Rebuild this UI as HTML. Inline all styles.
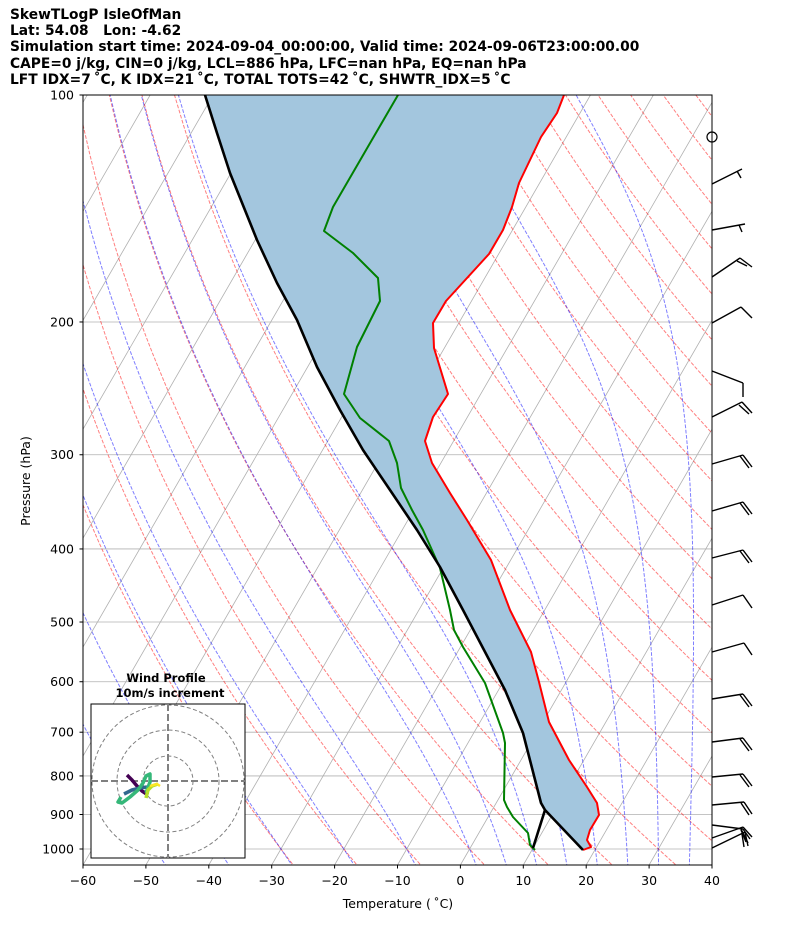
<!DOCTYPE html>
<html><head><meta charset="utf-8"><style>
html,body{margin:0;padding:0;background:#fff;}
body{width:794px;height:937px;overflow:hidden;position:relative;font-family:"Liberation Sans","DejaVu Sans",sans-serif;}
.hdr{position:absolute;left:10px;font-weight:bold;font-size:13.8px;color:#000;white-space:nowrap;font-family:"DejaVu Sans","Liberation Sans",sans-serif;}
</style></head><body>
<div class="hdr" style="top:7px">SkewTLogP IsleOfMan</div>
<div class="hdr" style="top:23px">Lat: 54.08&nbsp;&nbsp;&nbsp;Lon: -4.62</div>
<div class="hdr" style="top:39px">Simulation start time: 2024-09-04_00:00:00, Valid time: 2024-09-06T23:00:00.00</div>
<div class="hdr" style="top:56px">CAPE=0 j/kg, CIN=0 j/kg, LCL=886 hPa, LFC=nan hPa, EQ=nan hPa</div>
<div class="hdr" style="top:72px">LFT IDX=7C</div>
<svg id="s" width="794" height="937" style="position:absolute;left:0;top:0" xmlns="http://www.w3.org/2000/svg"></svg>
<script>
document.querySelectorAll('.hdr')[4].textContent="LFT IDX=7\u2009\u02DAC, K IDX=21\u2009\u02DAC, TOTAL TOTS=42\u2009\u02DAC, SHWTR_IDX=5\u2009\u02DAC";
var S=document.getElementById('s'),h='';
function yp(p){return 95+754*Math.log10(p/100);}
function xt(t,y){return 83+(t+60)*6.29+(865-y)*0.57735;}
h+='<defs><clipPath id="c"><rect x="83" y="95" width="629" height="770"/></clipPath></defs>';
h+='<g clip-path="url(#c)">';
[100,200,300,400,500,600,700,800,900,1000].forEach(function(p){var y=yp(p);h+='<line x1="83" x2="712" y1="'+y+'" y2="'+y+'" stroke="#b0b0b0" stroke-width="0.8"/>';});
for(var t=-200;t<=40;t+=10){h+='<line x1="'+xt(t,865)+'" y1="865" x2="'+xt(t,95)+'" y2="95" stroke="#b0b0b0" stroke-width="0.8"/>';}
for(var th=-30;th<=200;th+=10){var pts=[];for(var p=1060;p>=95;p-=10){var tk=(th+273.15)*Math.pow(p/1000,0.2857);var y=yp(p);pts.push(xt(tk-273.15,y).toFixed(1)+','+y.toFixed(1));}
h+='<polyline points="'+pts.join(' ')+'" fill="none" stroke="rgba(255,0,0,0.5)" stroke-width="1" stroke-dasharray="3.7,1.6"/>';}
function es(tc){return 6.112*Math.exp(17.67*tc/(tc+243.5));}
function dTdp(p,tk){var tc=tk-273.15;var e=es(tc);var rs=0.622*e/(p-e);var Rd=287.04,cp=1005.7,Lv=2.501e6;
return (Rd*tk+Lv*rs)/(p*(cp+Lv*Lv*rs*0.622/(Rd*tk*tk)));}
[-50,-40,-30,-20,-10,0,5,10,15,20,25,30,35].forEach(function(t0){
 function run(dir){var p=1000,tk=t0+273.15,pts=[];var dp=dir*2;
  while((dir<0&&p>95)||(dir>0&&p<1060)){var y=yp(p);pts.push(xt(tk-273.15,y).toFixed(1)+','+y.toFixed(1));
   var k1=dTdp(p,tk),k2=dTdp(p+dp/2,tk+k1*dp/2),k3=dTdp(p+dp/2,tk+k2*dp/2),k4=dTdp(p+dp,tk+k3*dp);
   tk+=dp*(k1+2*k2+2*k3+k4)/6;p+=dp;}return pts;}
 var up=run(-1),dn=run(1);var pts=dn.reverse().concat(up);
 h+='<polyline points="'+pts.join(' ')+'" fill="none" stroke="rgba(0,0,255,0.5)" stroke-width="1" stroke-dasharray="3.7,1.6"/>';
});
var temp=[[564,95],[557,113],[541,137],[519,183],[512,207],[503,230],[489,254],[446,301],[433,323],[434,348],[448,394],[433,417],[425,441],[432,463],[450,493],[467,520],[491,560],[510,610],[521,632],[531,652],[539,682],[549,722],[569,760],[587,787],[597,803],[599,815],[590,830],[587,840],[591,847],[583,850]];
var dew=[[398,95],[373,138],[333,207],[324,231],[353,253],[378,278],[380,301],[357,347],[344,394],[360,418],[389,441],[397,463],[401,488],[412,510],[423,530],[440,568],[450,610],[454,630],[463,647],[485,683],[503,733],[505,743],[504,800],[507,807],[513,817],[528,833],[530,845],[535,850]];
var parc=[[205,95],[217,133],[230,173],[257,240],[277,283],[297,320],[317,367],[340,410],[363,450],[390,490],[417,530],[440,567],[463,610],[484,650],[505,690],[523,733],[541,803],[545,810],[583,850]];
var poly=parc.concat(temp.slice().reverse());
h+='<polygon points="'+poly.map(function(a){return a.join(',')}).join(' ')+'" fill="#a3c6de" stroke="none"/>';
function pl(a,c,w){return '<polyline points="'+a.map(function(q){return q.join(',')}).join(' ')+'" fill="none" stroke="'+c+'" stroke-width="'+w+'" stroke-linejoin="round"/>';}
h+=pl(temp,'#ff0000',2)+pl(dew,'#008000',2)+pl(parc,'#000',2.6)+pl([[533,848],[545,810]],'#000',2.6);
h+='</g>';
h+='<rect x="83" y="95" width="629" height="770" fill="none" stroke="#000" stroke-width="1"/>';
[100,200,300,400,500,600,700,800,900,1000].forEach(function(p){var y=yp(p);h+='<line x1="79.5" x2="83" y1="'+y+'" y2="'+y+'" stroke="#000"/>';
h+='<text x="74" y="'+(y+4.5)+'" font-size="12.5" text-anchor="end" font-family="DejaVu Sans,Liberation Sans,sans-serif">'+p+'</text>';});
for(var t=-60;t<=40;t+=10){var x=83+(t+60)*6.29;h+='<line x1="'+x+'" x2="'+x+'" y1="865" y2="868.5" stroke="#000"/>';
h+='<text x="'+x+'" y="885" font-size="12.5" text-anchor="middle" font-family="DejaVu Sans,Liberation Sans,sans-serif">'+(t<0?'\u2212'+(-t):t)+'</text>';}
h+='<text x="398" y="908" font-size="12.5" text-anchor="middle" font-family="DejaVu Sans,Liberation Sans,sans-serif">Temperature (\u2009\u02DAC)</text>';
h+='<text transform="translate(30,481) rotate(-90)" font-size="12.5" text-anchor="middle" font-family="DejaVu Sans,Liberation Sans,sans-serif">Pressure (hPa)</text>';
h+='<circle cx="712" cy="137" r="5" fill="none" stroke="#000" stroke-width="1.2"/>';
var barbs=[
[184,742,169,[[737,171,741,178]]],
[230,745,224,[[739,225,742,232]]],
[277,740,258,[[740,258,752,267],[737,261,747,266]]],
[323,741,307,[[741,307,752,318]]],
[371,743,383,[[743,383,743,397]]],
[417,742,402,[[742,402,752,413],[739,405,749,414]]],
[464,743,455,[[743,455,752,467],[740,456,749,468]]],
[511,743,502,[[743,502,752,514],[740,503,749,515]]],
[558,743,550,[[743,550,752,562],[740,551,749,563]]],
[605,743,595,[[743,595,752,608]]],
[652,744,643,[[744,643,752,655]]],
[699,743,694,[[743,694,752,706],[740,695,749,707]]],
[742,743,738,[[743,738,752,750],[740,739,749,751]]],
[777,743,774,[[743,774,752,786],[740,775,749,787]]],
[805,744,802,[[744,802,752,814],[741,803,749,815]]],
[825,743,829,[[743,829,750,839],[741,830,746,842]]],
[838,743,827,[[743,827,752,837],[741,829,748,843]]],
[848,745,832,[[745,832,748,846],[742,834,744,847]]]];
barbs.forEach(function(b){h+='<line x1="712" y1="'+b[0]+'" x2="'+b[1]+'" y2="'+b[2]+'" stroke="#000" stroke-width="1.4"/>';
b[3].forEach(function(s){h+='<line x1="'+s[0]+'" y1="'+s[1]+'" x2="'+s[2]+'" y2="'+s[3]+'" stroke="#000" stroke-width="1.4"/>';});});
h+='<rect x="91" y="704" width="154" height="154" fill="#fff" stroke="#000" stroke-width="1"/>';
h+='<clipPath id="ic"><rect x="91" y="704" width="154" height="154"/></clipPath><g clip-path="url(#ic)">';
[25,51,76].forEach(function(r){h+='<circle cx="168" cy="781" r="'+r+'" fill="none" stroke="#808080" stroke-dasharray="4,2.5" stroke-width="1"/>';});
h+='<line x1="91" x2="245" y1="781" y2="781" stroke="#808080" stroke-width="2" stroke-dasharray="7,3"/>';
h+='<line x1="168" x2="168" y1="704" y2="858" stroke="#808080" stroke-width="2" stroke-dasharray="7,3"/>';
h+=pl([[127,775],[132,780],[137,786],[142,791],[148,795]],'#440154',3.5);
h+=pl([[147,787],[140,788],[132,790],[124,794]],'#31688e',3.5);
h+=pl([[121,797],[118,802],[122,803],[130,797],[138,790],[143,783],[146,776],[150,774],[150,782],[146,793]],'#35b779',3.5);
h+=pl([[146,798],[148,790],[152,786],[158,784]],'#b5de2b',3.5);
h+=pl([[150,786],[157,784],[160,786]],'#fde725',2.5);
h+='</g>';
h+='<text x="166" y="682" font-size="11.5" font-weight="bold" text-anchor="middle" font-family="DejaVu Sans,Liberation Sans,sans-serif">Wind Profile</text>';
h+='<text x="170" y="697" font-size="11.5" font-weight="bold" text-anchor="middle" font-family="DejaVu Sans,Liberation Sans,sans-serif">10m/s increment</text>';
S.innerHTML=h;
</script>
</body></html>
